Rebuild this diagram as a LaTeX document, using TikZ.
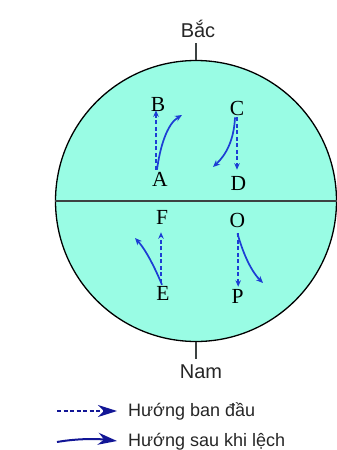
\documentclass[tikz,border=0pt]{standalone}
\usepackage{fontspec}
\setsansfont{Liberation Sans}
\newfontfamily\letterfont{Liberation Serif}
\usetikzlibrary{arrows.meta}
\definecolor{seafill}{RGB}{153,252,228}
\definecolor{arrowblue}{RGB}{28,62,212}
\definecolor{legendblue}{RGB}{18,22,150}
\definecolor{eqgray}{RGB}{60,66,66}
\definecolor{txtgray}{RGB}{38,38,38}
\tikzset{
  letter/.style={inner sep=0pt, font=\letterfont\fontsize{21.5}{24}\selectfont, text=black},
  pole/.style={inner sep=0pt, font=\sffamily\fontsize{20}{24}\selectfont, text=txtgray},
  legtext/.style={inner sep=0pt, anchor=base west, font=\sffamily\fontsize{18}{22}\selectfont, text=txtgray},
  initdir/.style={arrowblue, line width=1.5pt, dash pattern=on 4pt off 2.5pt, -{Stealth[length=6.5pt,width=5.5pt]}},
  devdir/.style={arrowblue, line width=1.7pt, -{Stealth[length=7pt,width=6pt]}},
  leginit/.style={legendblue, line width=1.2pt, dash pattern=on 4pt off 2.5pt, -{Stealth[length=19pt,width=12pt,inset=6pt]}},
  legdev/.style={legendblue, line width=2pt, -{Stealth[length=19pt,width=12pt,inset=6pt]}},
}
\begin{document}
\begin{tikzpicture}[x=1pt,y=-1pt]
\useasboundingbox (0,0) rectangle (337,450);
% globe
\node[circle, draw=black, line width=1.3pt, fill=seafill, minimum size=281pt, inner sep=0pt] (globe) at (196,201) {};
\draw[eqgray, line width=2pt] (globe.west) -- (globe.east);
% poles
\node[pole, anchor=base] (bac) at (198,37) {Bắc};
\node[pole, anchor=base] (nam) at (201,378) {Nam};
\coordinate (ntick) at (196,43);
\coordinate (stick) at (196,359);
\draw[eqgray, line width=1.5pt] (ntick) -- (globe.north);
\draw[eqgray, line width=1.5pt] (globe.south) -- (stick);
% letters
\node[letter] (B) at (158,104) {B};
\node[letter] (A) at (160,179.5) {A};
\node[letter] (C) at (237,108.5) {C};
\node[letter] (D) at (238.5,183.5) {D};
\node[letter] (F) at (162,217.5) {F};
\node[letter] (E) at (163,293.5) {E};
\node[letter] (O) at (237.5,220) {O};
\node[letter] (P) at (237.5,296.5) {P};
% free ends of deflected paths
\coordinate (ae) at (182,115);
\coordinate (ce) at (213,167);
\coordinate (ee) at (135,238);
\coordinate (oe) at (263,283);
% initial directions
\draw[initdir] ([xshift=-4pt,yshift=2.5pt]A.north) -- ([xshift=-2pt,yshift=1pt]B.south);
\draw[initdir] ([yshift=-1.5pt]C.south) -- ([yshift=6.5pt]C.south |- D.north);
\draw[initdir] ([xshift=-2pt,yshift=3.5pt]E.north) -- ([xshift=-1pt,yshift=-7.5pt]F.south);
\draw[initdir] ([xshift=0.7pt,yshift=-6pt]O.south) -- ([xshift=0.7pt,yshift=2.5pt]O.south |- P.north);
% deflected directions
\draw[devdir] ([xshift=-3pt,yshift=2.5pt]A.north) .. controls (160,147) and (167,124) .. (ae);
\draw[devdir] ([xshift=-2pt,yshift=-1.5pt]C.south) .. controls (234,140) and (226,155) .. (ce);
\draw[devdir] ([xshift=-1pt,yshift=1.5pt]E.north) .. controls (155,268) and (146,250) .. (ee);
\draw[devdir] ([yshift=-6pt]O.south) .. controls (242,250) and (250,270) .. (oe);
% legend
\coordinate (l1s) at (57,411);
\coordinate (l1e) at (117,411);
\coordinate (l2s) at (57,442);
\coordinate (l2e) at (117,441);
\draw[leginit] (l1s) -- (l1e);
\draw[legdev] (l2s) .. controls (80,438) and (100,439) .. (l2e);
\node[legtext] (t1) at (128,416.5) {Hướng ban đầu};
\node[legtext] (t2) at (128,446.5) {Hướng sau khi lệch};
\end{tikzpicture}
\end{document}
